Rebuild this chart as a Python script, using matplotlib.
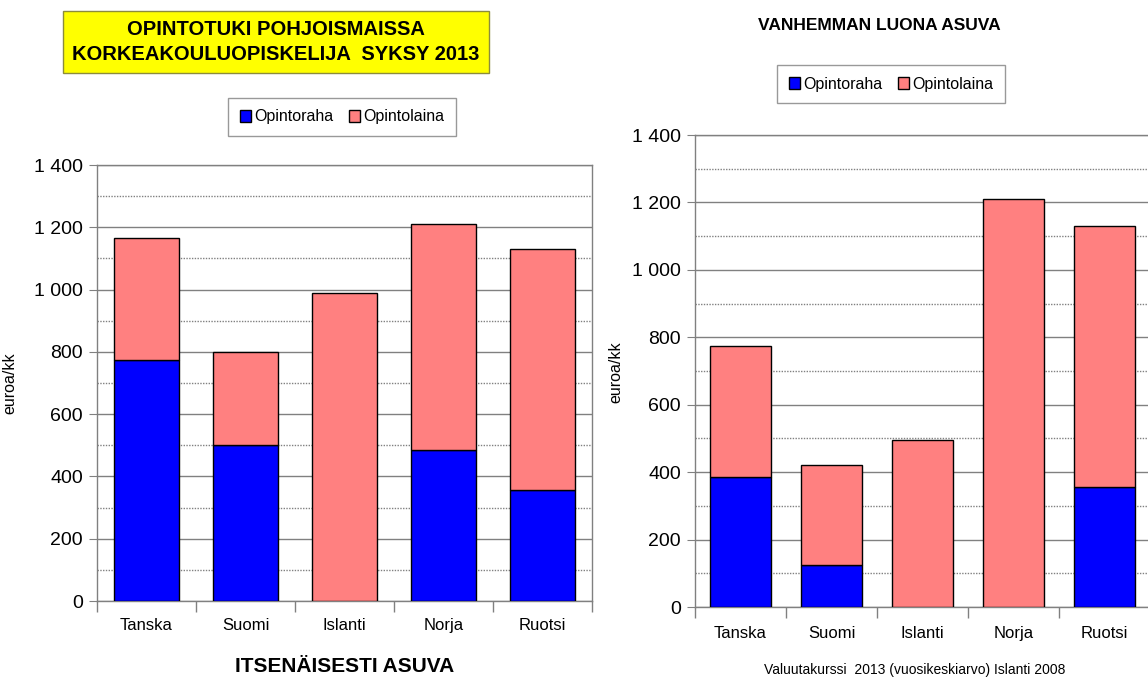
import matplotlib.pyplot as plt
import numpy as np
from matplotlib.ticker import MultipleLocator, FuncFormatter
from matplotlib.patches import Patch

maat = ["Tanska", "Suomi", "Islanti", "Norja", "Ruotsi"]

# itsenaisesti asuva (euroa/kk)
raha_itse = [775, 500, 0, 485, 355]
laina_itse = [390, 300, 990, 725, 775]

# vanhemman luona asuva
raha_koti = [385, 125, 0, 0, 355]
laina_koti = [390, 295, 495, 1210, 775]

series_names = ["Opintoraha", "Opintolaina"]
RAHA = "#0000FF"
LAINA = "#FF8080"
GRID = "#808080"

plt.rcParams['font.family'] = ['Liberation Sans', 'DejaVu Sans']

fig = plt.figure(figsize=(11.48, 6.82), dpi=100)


def fmt_thousands(v, pos):
    return f"{int(v):,}".replace(",", " ")


def draw_panel(ax, raha, laina, xpad):
    x = np.arange(len(maat))
    ax.bar(x, raha, width=0.66, color=RAHA, edgecolor="black", linewidth=1.0, zorder=3)
    ax.bar(x, laina, width=0.66, bottom=raha, color=LAINA, edgecolor="black",
           linewidth=1.0, zorder=3)
    ax.set_xlim(-0.5, len(maat) - 0.5)
    ax.set_ylim(0, 1400)
    ax.yaxis.set_major_locator(MultipleLocator(200))
    ax.yaxis.set_minor_locator(MultipleLocator(100))
    ax.yaxis.set_major_formatter(FuncFormatter(fmt_thousands))
    ax.grid(axis="y", which="major", color=GRID, linewidth=1.0, zorder=0)
    ax.grid(axis="y", which="minor", color=GRID, linewidth=1.0, linestyle=(0, (1, 1)), zorder=0)
    ax.tick_params(axis="y", which="minor", length=0)
    ax.tick_params(axis="y", which="major", length=6, color=GRID, labelsize=14, pad=4)
    # category labels between boundary ticks
    ax.set_xticks(x)
    ax.set_xticklabels(maat, fontsize=12)
    ax.tick_params(axis="x", which="major", length=0, pad=xpad)
    ax.set_xticks(np.arange(len(maat) + 1) - 0.5, minor=True)
    ax.tick_params(axis="x", which="minor", length=8, color=GRID, width=1.0)
    for s in ax.spines.values():
        s.set_color(GRID)
        s.set_linewidth(1.0)
    ax.set_ylabel("euroa/kk", fontsize=11.5)


legend_handles = [Patch(facecolor=RAHA, edgecolor="black", label=series_names[0]),
                  Patch(facecolor=LAINA, edgecolor="black", label=series_names[1])]
legend_kw = dict(ncol=2, fontsize=11.5, frameon=True, fancybox=False, edgecolor=GRID,
                 handlelength=0.7, handleheight=0.7, handletextpad=0.2, columnspacing=1.0,
                 borderpad=0.7)

# left chart
ax1 = fig.add_axes([97 / 1148, 1 - 601 / 682, 495 / 1148, 436 / 682])
draw_panel(ax1, raha_itse, laina_itse, 12)
ax1.yaxis.set_label_coords((17 - 97) / 495, (601 - 383) / 436)

fig.text(276 / 1148, 1 - 42 / 682, "OPINTOTUKI POHJOISMAISSA\nKORKEAKOULUOPISKELIJA  SYKSY 2013",
         ha="center", va="center", fontsize=14.5, fontweight="bold", linespacing=1.4,
         bbox=dict(boxstyle="square,pad=0.45", facecolor="#FFFF00", edgecolor="#8C8C3C", linewidth=1))
fig.legend(handles=legend_handles, loc="center", bbox_to_anchor=(342 / 1148, 1 - 117 / 682),
           **legend_kw)
fig.text(345 / 1148, 1 - 666 / 682, "ITSENÄISESTI ASUVA", ha="center", va="center",
         fontsize=15, fontweight="bold")

# right chart
ax2 = fig.add_axes([695 / 1148, 1 - 607 / 682, 455 / 1148, 472 / 682])
draw_panel(ax2, raha_koti, laina_koti, 14)
ax2.yaxis.set_label_coords((623 - 695) / 455, (607 - 372) / 472)

fig.text(879 / 1148, 1 - 25 / 682, "VANHEMMAN LUONA ASUVA", ha="center", va="center",
         fontsize=12.5, fontweight="bold")
fig.legend(handles=legend_handles, loc="center", bbox_to_anchor=(891 / 1148, 1 - 84 / 682),
           **legend_kw)
fig.text(915 / 1148, 1 - 670 / 682, "Valuutakurssi  2013 (vuosikeskiarvo) Islanti 2008",
         ha="center", va="center", fontsize=10)

fig.savefig("out.png", dpi=100)
plt.close(fig)
